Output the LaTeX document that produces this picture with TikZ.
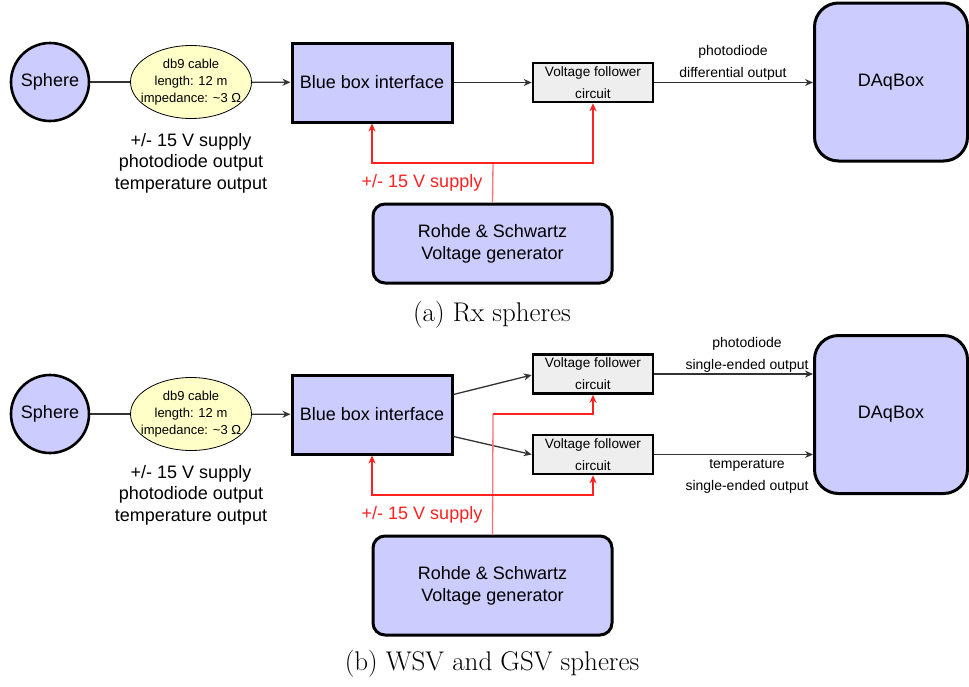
\documentclass[tikz,border=0pt]{standalone}
\usepackage{fontspec}
\newfontfamily\arial{Liberation Sans}
\usetikzlibrary{shapes.geometric,arrows.meta}
\definecolor{blueish}{HTML}{CCCCFF}
\definecolor{yellowish}{HTML}{FFFFC8}
\definecolor{vfgray}{HTML}{EEEEEE}
\definecolor{supred}{HTML}{FF2020}
\definecolor{supline}{HTML}{FF7070}
\tikzset{
  sphere/.style={circle, draw, line width=2.6pt, fill=blueish, minimum size=78pt, inner sep=0pt, font=\arial\fontsize{18}{20}\selectfont},
  cable/.style={ellipse, draw, line width=0.8pt, fill=yellowish, minimum width=121pt, minimum height=73pt, inner sep=0pt},
  cabletxt/.style={align=center, inner sep=0pt, font=\arial\fontsize{13}{17}\selectfont},
  bbox/.style={rectangle, draw, line width=3pt, fill=blueish, minimum width=160pt, minimum height=79pt, inner sep=0pt, font=\arial\fontsize{18}{20}\selectfont},
  vfbox/.style={rectangle, draw, line width=2.6pt, fill=vfgray, minimum width=120pt, minimum height=39pt, inner sep=0pt, align=center, font=\arial\fontsize{13.6}{22}\selectfont},
  daqbox/.style={rectangle, rounded corners=24pt, draw, line width=3pt, fill=blueish, minimum width=153pt, minimum height=158pt, inner sep=0pt, font=\arial\fontsize{18}{20}\selectfont},
  rsbox/.style={rectangle, rounded corners=12pt, draw, line width=3pt, fill=blueish, minimum width=239pt, inner sep=0pt, align=center, font=\arial\fontsize{18}{22}\selectfont},
  bigtxt/.style={align=center, inner sep=0pt, font=\arial\fontsize{18}{21.5}\selectfont},
  smalltxt/.style={align=center, inner sep=0pt, font=\arial\fontsize{14}{22}\selectfont},
  redtxt/.style={inner sep=0pt, text=supred, font=\arial\fontsize{18}{20}\selectfont},
  captxt/.style={inner sep=0pt, font=\rmfamily\fontsize{27}{31}\selectfont},
  conn/.style={draw=black!80, line width=1.3pt},
  arr/.style={conn, -{Stealth[length=8pt,width=7pt]}},
  redarr/.style={draw=supred, line width=1.2pt, {Stealth[length=8pt,width=7pt]}-{Stealth[length=8pt,width=7pt]}},
  redsingle/.style={draw=supred, line width=1.2pt, -{Stealth[length=8pt,width=7pt]}},
  feed/.style={draw=supline, line width=1.3pt},
}
\begin{document}
\begin{tikzpicture}[x=1pt, y=-1pt]
\useasboundingbox (0,0) rectangle (969,686);
% ---------------- (a) ----------------
\node[sphere] (s1) at (50,82) {Sphere};
\node[cable] (c1) at (191,82) {};
\node[cabletxt] (ct1) at (191,82) {db9 cable\\length: 12 m\\impedance: \textasciitilde3 Ω};
\node[bigtxt] (t1) at (191,163) {+/- 15 V supply\\photodiode output\\temperature output};
\node[bbox] (b1) at (372,82.5) {Blue box interface};
\node[vfbox] (v1) at (593,82.5) {Voltage follower\\circuit};
\node[daqbox] (d1) at (891,82) {DAqBox};
\node[rsbox, minimum height=79pt] (r1) at (492.5,243.5) {Rohde \& Schwartz\\Voltage generator};
\node[smalltxt] (l1) at (733,63) {photodiode\\differential output};
\node[redtxt] (rl1) at (422,183) {+/- 15 V supply};
\node[captxt] (cap1) at (492,315) {(a) Rx spheres};
\coordinate (j1) at (493,163);
\draw[conn] (s1) -- (c1);
\draw[arr] (c1) -- (b1);
\draw[arr] (b1) -- (v1);
\draw[arr] (v1) -- (v1.east -| d1.west);
\draw[feed] (r1.north) -- (j1);
\draw[redarr] (b1.south) |- (j1) -| (v1.south);
% ---------------- (b) ----------------
\node[sphere] (s2) at (50,414) {Sphere};
\node[cable] (c2) at (191,414) {};
\node[cabletxt] (ct2) at (191,414) {db9 cable\\length: 12 m\\impedance: \textasciitilde3 Ω};
\node[bigtxt] (t2) at (191,495) {+/- 15 V supply\\photodiode output\\temperature output};
\node[bbox] (b2) at (372,414.5) {Blue box interface};
\node[vfbox] (v2a) at (593,374) {Voltage follower\\circuit};
\node[vfbox] (v2b) at (593,454.5) {Voltage follower\\circuit};
\node[daqbox] (d2) at (891,414.5) {DAqBox};
\node[rsbox, minimum height=99pt] (r2) at (492.5,585.5) {Rohde \& Schwartz\\Voltage generator};
\node[smalltxt] (l2a) at (747,355) {photodiode\\single-ended output};
\node[smalltxt] (l2b) at (747,476) {temperature\\single-ended output};
\node[redtxt] (rl2) at (422,515) {+/- 15 V supply};
\node[captxt] (cap2) at (492,664) {(b) WSV and GSV spheres};
\coordinate (j2) at (493,414);
\coordinate (k2) at (372,495);
\draw[conn] (s2) -- (c2);
\draw[arr] (c2) -- (b2);
\draw[arr] ([yshift=20pt]b2.east) -- ([yshift=-1pt]v2a.west);
\draw[arr] ([yshift=-22pt]b2.east) -- (v2b.west);
\draw[arr] (v2a.east) -- (v2a.east -| d2.west);
\draw[arr] (v2b.east) -- (v2b.east -| d2.west);
\draw[feed] (r2.north) -- (j2);
\draw[redsingle] (j2) -| (v2a.south);
\draw[redarr] (b2.south) |- (k2) -| (v2b.south);
\end{tikzpicture}
\end{document}
